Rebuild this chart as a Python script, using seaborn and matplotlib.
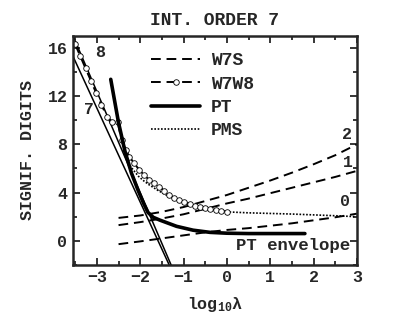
import matplotlib
matplotlib.use("Agg")
import matplotlib.pyplot as plt
import seaborn as sns
import numpy as np

# W7S curves (labelled 0, 1, 2)
w7s_x = [-2.5, -2.0, -1.5, -1.0, -0.5, 0.0, 0.5, 1.0, 1.5, 2.0, 2.5, 3.0]
w7s_2 = [1.9, 2.1, 2.4, 2.8, 3.3, 3.8, 4.4, 5.0, 5.65, 6.35, 7.1, 8.0]
w7s_1 = [1.3, 1.55, 1.85, 2.2, 2.65, 3.1, 3.5, 3.95, 4.4, 4.85, 5.3, 5.8]
w7s_0 = [-0.28, -0.05, 0.2, 0.45, 0.7, 0.9, 1.05, 1.25, 1.45, 1.7, 1.95, 2.25]

# straight lines of order 7 and 8
line8_x = [-3.55, -1.2]
line8_y = [17.0, -2.74]
line7_x = [-3.55, -1.2]
line7_y = [15.3, -3.03]

# W7W8 (circles)
w7w8_x = [-3.50, -3.38, -3.26, -3.14, -3.02, -2.90, -2.76, -2.64, -2.52, -2.43,
          -2.33, -2.25, -2.14, -2.02, -1.91, -1.79, -1.68, -1.56, -1.44, -1.33,
          -1.21, -1.10, -0.98, -0.86, -0.74, -0.62, -0.50, -0.38, -0.26, -0.14, 0.0]
w7w8_y = [16.3, 15.3, 14.3, 13.3, 12.3, 11.3, 10.3, 9.85, 9.85, 8.36,
          7.53, 6.98, 6.43, 5.88, 5.46, 5.05, 4.78, 4.50, 4.14, 3.81,
          3.53, 3.39, 3.25, 3.05, 2.92, 2.84, 2.74, 2.65, 2.57, 2.49, 2.43]

# PMS (dotted)
pms_x = [-2.40, -2.28, -2.16, -2.04, -1.92, -1.80, -1.60, -1.40, -1.20, -1.00,
         -0.80, -0.60, -0.40, -0.20, 0.0, 0.5, 1.0, 1.5, 2.0, 2.5, 3.0]
pms_y = [7.5, 6.45, 5.88, 5.35, 4.98, 4.66, 4.20, 3.80, 3.45, 3.18,
         2.95, 2.78, 2.62, 2.50, 2.40, 2.32, 2.27, 2.22, 2.15, 2.08, 2.0]

# PT envelope (thick)
pt_x = [-2.68, -2.50, -2.35, -2.20, -2.05, -1.92, -1.82, -1.70, -1.55, -1.16,
        -0.78, -0.39, 0.0, 0.5, 1.0, 1.8]
pt_y = [13.4, 9.8, 7.4, 5.6, 4.2, 3.1, 2.35, 1.95, 1.72, 1.2,
        0.88, 0.7, 0.63, 0.6, 0.6, 0.6]

sns.set_style("ticks")
mono = ["Liberation Mono", "DejaVu Sans Mono"]
plt.rcParams["font.family"] = mono
plt.rcParams["font.weight"] = "bold"
plt.rcParams["mathtext.fontset"] = "custom"
plt.rcParams["mathtext.rm"] = "Liberation Mono:bold"
plt.rcParams["mathtext.default"] = "rm"
plt.rcParams["axes.unicode_minus"] = True

fig = plt.figure(figsize=(4.15, 3.18), dpi=100)
ax = fig.add_axes([0.176, 0.167, 0.684, 0.720])

dash = (5, 3)
for yy in (w7s_2, w7s_1, w7s_0):
    sns.lineplot(x=w7s_x, y=yy, ax=ax, color="black", lw=1.4,
                 estimator=None, sort=False).lines[-1].set_dashes(dash)
ax.lines[0].set_label("W7S")

sns.lineplot(x=line8_x, y=line8_y, ax=ax, color="black", lw=1.1, estimator=None, sort=False)
sns.lineplot(x=line7_x, y=line7_y, ax=ax, color="black", lw=1.1, estimator=None, sort=False)

sns.lineplot(x=pms_x, y=pms_y, ax=ax, color="black", lw=1.2, estimator=None, sort=False)
ax.lines[-1].set_dashes((1, 1))
ax.lines[-1].set_label("PMS")

sns.lineplot(x=w7w8_x, y=w7w8_y, ax=ax, color="black", lw=1.4, estimator=None, sort=False,
             marker="o", markersize=4, markerfacecolor="white",
             markeredgecolor="black", markeredgewidth=0.6)
ax.lines[-1].set_dashes(dash)
ax.lines[-1].set_label("W7W8")

sns.lineplot(x=pt_x, y=pt_y, ax=ax, color="black", lw=2.6, estimator=None, sort=False)
ax.lines[-1].set_label("PT")

ax.set_xlim(-3.55, 3)
ax.set_ylim(-2, 17)
ax.set_xticks([-3, -2, -1, 0, 1, 2, 3])
ax.set_xticks(np.arange(-3.5, 3.01, 0.5), minor=True)
ax.set_yticks([0, 4, 8, 12, 16])
ax.set_yticks([-2, 2, 6, 10, 14], minor=True)
ax.tick_params(which="both", direction="in", top=True, right=True, width=1.3,
               labelsize=12, pad=4)
ax.tick_params(which="major", length=5)
ax.tick_params(which="minor", length=3)
for s in ax.spines.values():
    s.set_linewidth(1.8)
for lab in ax.get_xticklabels() + ax.get_yticklabels():
    lab.set_fontweight("bold")

ax.set_title("INT. ORDER 7", fontsize=13, fontweight="bold", pad=8)
ax.set_ylabel("SIGNIF. DIGITS", fontsize=12, fontweight="bold", labelpad=9)
ax.set_xlabel("log$_{10}$\u03bb", fontsize=12, fontweight="bold", labelpad=7)

ax.text(-2.93, 15.6, "8", fontsize=12, fontweight="bold", ha="center", va="center")
ax.text(-3.18, 10.9, "7", fontsize=12, fontweight="bold", ha="center", va="center")
ax.text(2.77, 8.86, "2", fontsize=12, fontweight="bold", ha="center", va="center")
ax.text(2.80, 6.46, "1", fontsize=12, fontweight="bold", ha="center", va="center")
ax.text(2.73, 3.23, "0", fontsize=12, fontweight="bold", ha="center", va="center")
ax.text(2.85, -0.41, "PT envelope", fontsize=12.5, fontweight="bold", ha="right", va="center")

h = {l.get_label(): l for l in ax.lines}
ax.legend([h["W7S"], h["W7W8"], h["PT"], h["PMS"]], ["W7S", "W7W8", "PT", "PMS"],
          loc="upper left", bbox_to_anchor=(0.25, 0.96), frameon=False,
          fontsize=13, handlelength=2.7, handletextpad=0.6, labelspacing=0.35,
          borderaxespad=0, numpoints=1)

fig.savefig("out.png", dpi=100)
